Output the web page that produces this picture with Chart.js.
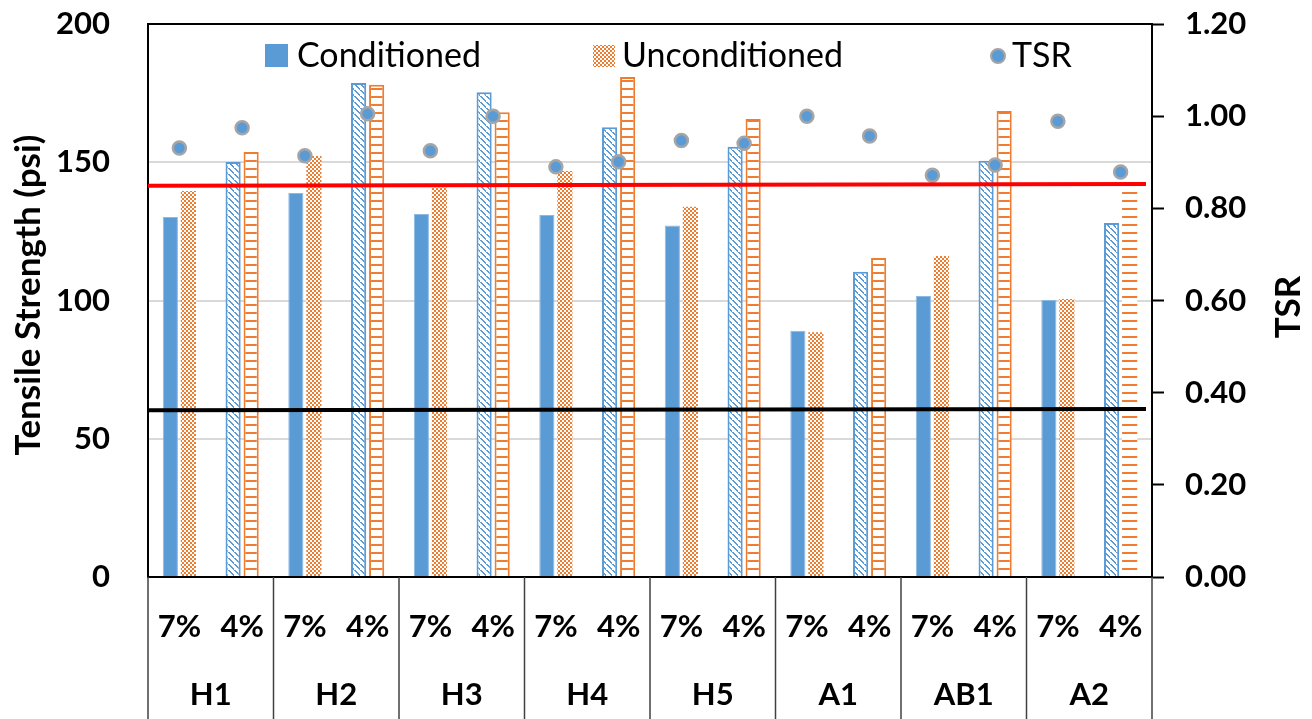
<!DOCTYPE html>
<html>
<head>
<meta charset="utf-8">
<script src="https://cdn.jsdelivr.net/npm/chart.js@4.4.1/dist/chart.umd.min.js"></script>
<style>
    html, body { margin: 0; padding: 0; background: #fff; }
    #wrap { width: 1312px; height: 719px; }
</style>
</head>
<body>
<div id="wrap"><canvas id="tsrChart" width="1312" height="719"></canvas></div>
<script>
// Mixes and air void levels
const groups = ['H1', 'H2', 'H3', 'H4', 'H5', 'A1', 'AB1', 'A2'];
const voids = ['7%', '4%'];

// Tensile strength (psi), pairs of 7% / 4% for each mix
const conditioned = [130.2, 150.1, 138.9, 178.7, 131.3, 175.3, 130.9, 162.7, 127.1, 155.6, 89.1, 110.4, 101.6, 150.5, 100.2, 128.0];
const unconditioned = [139.6, 153.7, 152.3, 178.0, 140.9, 168.1, 146.8, 180.8, 133.9, 165.6, 88.5, 115.4, 116.1, 168.5, 100.5, 143.6];

// Tensile strength ratio
const tsr = [0.931, 0.975, 0.914, 1.005, 0.925, 1.000, 0.890, 0.901, 0.947, 0.941, 1.000, 0.957, 0.872, 0.894, 0.989, 0.879];

// Reference lines (psi at left end, right end)
const redLine = [141.5, 142.1];
const blackLine = [60.3, 60.8];

// Axis ranges
const psiRange = [0, 200, 50];
const tsrRange = [0, 1.2, 0.2];

const labels = groups.flatMap(g => voids.map(v => g + ' ' + v));

const BLUE = '#5B9BD5';
const ORANGE = '#ED7D31';
const FONT = 'Lato';

// Helper to build a small repeating fill
function makePattern(w, h, draw) {
    const c = document.createElement('canvas');
    c.width = w;
    c.height = h;
    const g = c.getContext('2d');
    g.fillStyle = '#fff';
    g.fillRect(0, 0, w, h);
    draw(g);
    return c.getContext('2d').createPattern(c, 'repeat');
}

const checker = makePattern(4, 4, g => {
    g.fillStyle = ORANGE;
    g.fillRect(0, 0, 2, 2);
    g.fillRect(2, 2, 2, 2);
});

const hatch = makePattern(6, 6, g => {
    g.fillStyle = BLUE;
    for (let i = 0; i < 6; i++) g.fillRect(i, i, 2, 1);
});

const ladder = makePattern(4, 8, g => {
    g.fillStyle = ORANGE;
    g.fillRect(0, 0, 4, 2);
});

// 7% bars get the plain / checker fill, 4% bars the hatch / ladder fill
const condFill = labels.map((l, i) => i % 2 ? hatch : BLUE);
const condBorder = labels.map((l, i) => i % 2 ? 2 : 1);
const condBorderColor = labels.map((l, i) => i % 2 ? BLUE : '#8DB8E2');
const uncondFill = labels.map((l, i) => i % 2 ? ladder : checker);
const uncondBorder = labels.map((l, i) => i % 2 && i !== labels.length - 1 ? 2 : 0);

// keep the plot box where the original has it
function fixBox(width) {
    return function (s) {
        if (width) s.width = width;
        s.paddingTop = 0;
        s.paddingBottom = 0;
        s.paddingLeft = 0;
        s.paddingRight = 0;
    };
}

// Category table, reference lines, legend and axis titles
const framePlugin = {
    id: 'frame',
    afterDatasetsDraw(chart) {
        const { ctx, chartArea: a, scales } = chart;
        const y = scales.y;
        ctx.save();
        [[redLine, '#FF0000'], [blackLine, '#000000']].forEach(([vals, color]) => {
            ctx.strokeStyle = color;
            ctx.lineWidth = 4;
            ctx.beginPath();
            ctx.moveTo(a.left, y.getPixelForValue(vals[0]));
            ctx.lineTo(a.right - 6, y.getPixelForValue(vals[1]));
            ctx.stroke();
        });
        ctx.restore();
    },
    afterDraw(chart) {
        const { ctx, chartArea: a, scales } = chart;
        const x = scales.x;
        const H = chart.height;
        ctx.save();

        // top border
        ctx.strokeStyle = '#000';
        ctx.lineWidth = 2;
        ctx.beginPath();
        ctx.moveTo(a.left, a.top);
        ctx.lineTo(a.right, a.top);
        ctx.stroke();

        // group separators
        ctx.strokeStyle = '#404040';
        ctx.lineWidth = 1.5;
        for (let g = 0; g <= groups.length; g++) {
            let px;
            if (g === 0) px = a.left;
            else if (g === groups.length) px = a.right;
            else px = (x.getPixelForValue(2 * g - 1) + x.getPixelForValue(2 * g)) / 2;
            ctx.beginPath();
            ctx.moveTo(px, a.bottom);
            ctx.lineTo(px, H);
            ctx.stroke();
        }

        // category labels
        ctx.fillStyle = '#000';
        ctx.textAlign = 'center';
        ctx.textBaseline = 'middle';
        ctx.font = 'bold 31px ' + FONT;
        labels.forEach((l, i) => {
            ctx.fillText(voids[i % 2], x.getPixelForValue(i), 627);
        });
        groups.forEach((g, i) => {
            const cx = (x.getPixelForValue(2 * i) + x.getPixelForValue(2 * i + 1)) / 2;
            ctx.fillText(g, cx, 695);
        });

        // legend
        ctx.font = '34px ' + FONT;
        ctx.textAlign = 'left';
        ctx.fillStyle = BLUE;
        ctx.fillRect(265, 44, 23, 23);
        ctx.fillStyle = checker;
        ctx.fillRect(593, 45, 22, 22);
        ctx.beginPath();
        ctx.arc(998, 56, 7, 0, Math.PI * 2);
        ctx.fillStyle = BLUE;
        ctx.fill();
        ctx.strokeStyle = '#A5A5A5';
        ctx.lineWidth = 2;
        ctx.stroke();
        ctx.fillStyle = '#000';
        ctx.fillText('Conditioned', 297, 56);
        ctx.fillText('Unconditioned', 622, 56);
        ctx.fillText('TSR', 1012, 56);

        // axis titles
        ctx.font = 'bold 35px ' + FONT;
        ctx.textAlign = 'center';
        ctx.save();
        ctx.translate(29, 295);
        ctx.rotate(-Math.PI / 2);
        ctx.fillText('Tensile Strength (psi)', 0, 0);
        ctx.restore();
        ctx.save();
        ctx.translate(1289, 307);
        ctx.rotate(-Math.PI / 2);
        ctx.fillText('TSR', 0, 0);
        ctx.restore();

        ctx.restore();
    }
};

const tickFont = { family: FONT, size: 31, weight: 'bold' };

new Chart(document.getElementById('tsrChart').getContext('2d'), {
    type: 'bar',
    data: {
        labels: labels,
        datasets: [
            {
                type: 'line',
                label: 'TSR',
                data: tsr,
                yAxisID: 'y1',
                showLine: false,
                pointRadius: 6.5,
                pointBackgroundColor: BLUE,
                pointBorderColor: '#A5A5A5',
                pointBorderWidth: 2.5,
                order: 0
            },
            {
                label: 'Conditioned',
                data: conditioned,
                yAxisID: 'y',
                backgroundColor: condFill,
                borderColor: condBorderColor,
                borderWidth: condBorder,
                order: 1
            },
            {
                label: 'Unconditioned',
                data: unconditioned,
                yAxisID: 'y',
                backgroundColor: uncondFill,
                borderColor: ORANGE,
                borderWidth: uncondBorder,
                order: 1
            }
        ]
    },
    options: {
        responsive: false,
        animation: false,
        categoryPercentage: 0.575,
        barPercentage: 0.84,
        layout: { padding: { top: 24, left: 0, right: 0, bottom: 0 } },
        plugins: {
            legend: { display: false },
            tooltip: { enabled: false }
        },
        scales: {
            x: {
                ticks: { display: false },
                grid: { display: false },
                border: { color: '#000', width: 2 },
                afterFit(s) {
                    s.height = 142;
                    s.paddingLeft = 0;
                    s.paddingRight = 0;
                }
            },
            y: {
                min: psiRange[0],
                max: psiRange[1],
                ticks: { stepSize: psiRange[2], font: tickFont, color: '#000', padding: 38 },
                grid: {
                    color: c => (c.tick.value === psiRange[0] || c.tick.value === psiRange[1]) ? 'rgba(0,0,0,0)' : '#D9D9D9',
                    lineWidth: 2,
                    drawTicks: false
                },
                border: { color: '#000', width: 2 },
                afterFit: fixBox(148)
            },
            y1: {
                position: 'right',
                min: tsrRange[0],
                max: tsrRange[1],
                ticks: {
                    stepSize: tsrRange[2],
                    font: tickFont,
                    color: '#000',
                    padding: 21,
                    callback: v => v.toFixed(2)
                },
                grid: { drawOnChartArea: false, tickLength: 12, tickColor: '#000', tickWidth: 2 },
                border: { color: '#000', width: 2 },
                afterFit: fixBox(160)
            }
        }
    },
    plugins: [framePlugin]
});
</script>
</body>
</html>
